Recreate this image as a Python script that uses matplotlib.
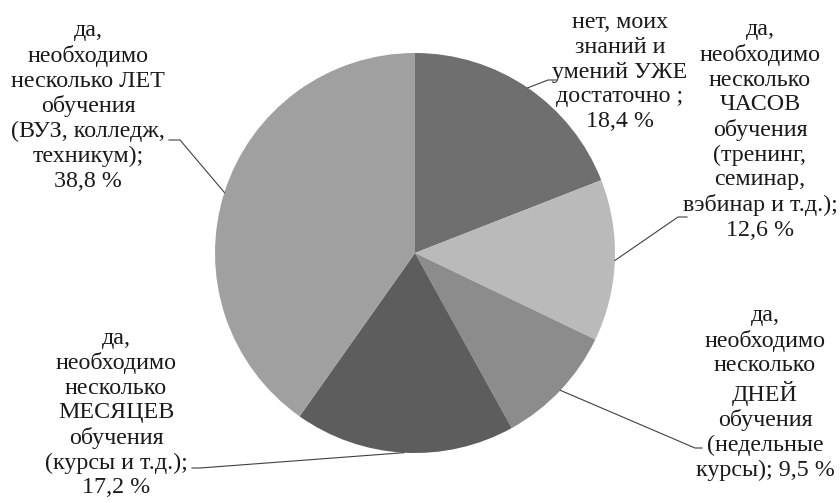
import numpy as np
import matplotlib
matplotlib.use("Agg")
import matplotlib.pyplot as plt

# answer shares, %
labels = [
    "нет, моих\nзнаний и\nумений УЖЕ\nдостаточно ;\n18,4 %",
    "да,\nнеобходимо\nнесколько\nЧАСОВ\nобучения\n(тренинг,\nсеминар,\nвэбинар и т.д.);\n12,6 %",
    "да,\nнеобходимо\nнесколько\nДНЕЙ\nобучения\n(недельные\nкурсы); 9,5 %",
    "да,\nнеобходимо\nнесколько\nМЕСЯЦЕВ\nобучения\n(курсы и т.д.);\n17,2 %",
    "да,\nнеобходимо\nнесколько ЛЕТ\nобучения\n(ВУЗ, колледж,\nтехникум);\n38,8 %",
]
values = [18.4, 12.6, 9.5, 17.2, 38.8]
colors = ["#6f6f6f", "#bababa", "#8c8c8c", "#5d5d5d", "#a0a0a0"]

W, H = 840, 503
fig = plt.figure(figsize=(W / 100, H / 100), dpi=100)
ax = fig.add_axes([0, 0, 1, 1])

cx, cy, r = 415, H - 253, 200
wedges, _ = ax.pie(values, colors=colors, startangle=90, counterclock=False,
                   center=(cx, cy), radius=r, wedgeprops=dict(linewidth=0))
ax.set_xlim(0, W)
ax.set_ylim(0, H)
ax.set_aspect("equal")
ax.axis("off")

# label block centre (image px) and leader stub (start, end) in image px
label_pos = [(620, 72), (760, 130), (765, 393), (116, 413), (88, 106)]
stubs = [((557, 80), (548, 80)),
         ((687, 217), (678, 217)),
         ((702, 448), (695, 448)),
         ((192, 468), (200, 468)),
         ((169, 140), (180, 140))]

for w, txt, (tx, ty), (s0, s1) in zip(wedges, labels, label_pos, stubs):
    ax.text(tx, H - ty, txt, ha="center", va="center", fontsize=17.3,
            family="Liberation Serif", color="#1a1a1a", linespacing=1.22)
    mid = np.deg2rad((w.theta1 + w.theta2) / 2)
    ex, ey = cx + r * np.cos(mid), cy + r * np.sin(mid)
    ax.plot([s0[0], s1[0], ex], [H - s0[1], H - s1[1], ey],
            color="#404040", lw=0.8)

fig.savefig("out.png", dpi=100)
